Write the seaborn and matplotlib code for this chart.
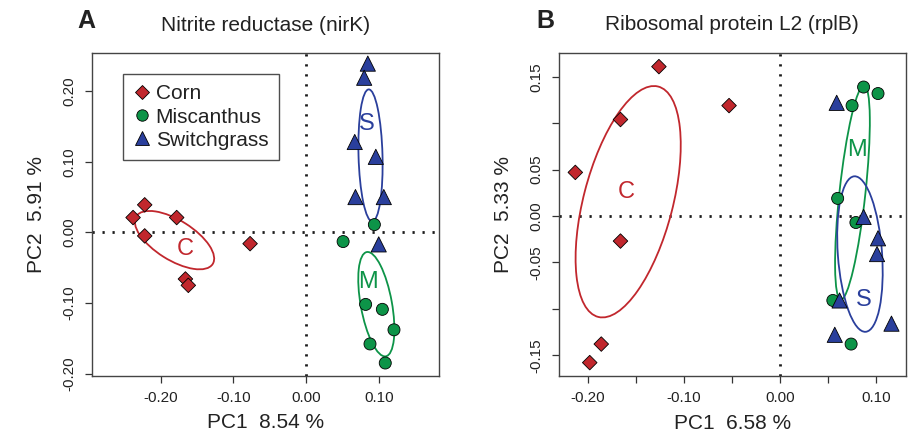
import numpy as np
import pandas as pd
import matplotlib
matplotlib.use("Agg")
import matplotlib.pyplot as plt
import seaborn as sns
from matplotlib.patches import Ellipse
from matplotlib.lines import Line2D

# ---------------------------------------
# Data
# ---------------------------------------
crops = ["Corn", "Miscanthus", "Switchgrass"]

# Panel A - nitrite reductase (nirK)
corn_a_x = [-0.222, -0.238, -0.178, -0.222, -0.077, -0.166, -0.162]
corn_a_y = [0.039, 0.021, 0.021, -0.005, -0.016, -0.066, -0.075]
misc_a_x = [0.094, 0.051, 0.082, 0.105, 0.121, 0.088, 0.109]
misc_a_y = [0.011, -0.013, -0.102, -0.109, -0.138, -0.158, -0.185]
swit_a_x = [0.085, 0.080, 0.067, 0.096, 0.068, 0.107, 0.100]
swit_a_y = [0.239, 0.219, 0.128, 0.107, 0.050, 0.050, -0.017]

# Panel B - ribosomal protein L2 (rplB)
corn_b_x = [-0.126, -0.053, -0.166, -0.213, -0.166, -0.186, -0.198]
corn_b_y = [0.161, 0.119, 0.104, 0.047, -0.027, -0.138, -0.158]
misc_b_x = [0.087, 0.102, 0.075, 0.060, 0.079, 0.055, 0.074]
misc_b_y = [0.139, 0.132, 0.119, 0.019, -0.007, -0.091, -0.138]
swit_b_x = [0.059, 0.087, 0.102, 0.101, 0.062, 0.116, 0.057]
swit_b_y = [0.122, -0.001, -0.024, -0.041, -0.091, -0.116, -0.128]

# ellipses: centre x, centre y, major, minor, angle (deg)
ell_a = {"Corn": (-0.181, -0.011, 0.125, 0.056, -33),
         "Miscanthus": (0.0967, -0.1017, 0.150, 0.043, 100),
         "Switchgrass": (0.0887, 0.109, 0.187, 0.033, 91.5)}
ell_b = {"Corn": (-0.158, 0.0154, 0.256, 0.093, 76),
         "Miscanthus": (0.0754, 0.0253, 0.232, 0.027, 84),
         "Switchgrass": (0.0832, -0.041, 0.168, 0.046, 94)}

# group letters
lab_a = {"Corn": ("C", -0.166, -0.023), "Miscanthus": ("M", 0.0857, -0.070),
         "Switchgrass": ("S", 0.0835, 0.154)}
lab_b = {"Corn": ("C", -0.1595, 0.026), "Miscanthus": ("M", 0.080, 0.071),
         "Switchgrass": ("S", 0.087, -0.0905)}

titles = ["Nitrite reductase (nirK)", "Ribosomal protein L2 (rplB)"]
xlabels = ["PC1  8.54 %", "PC1  6.58 %"]
ylabels = ["PC2  5.91 %", "PC2  5.33 %"]

xticks_a = [-0.20, -0.10, 0.00, 0.10]
yticks_a = [-0.20, -0.10, 0.00, 0.10, 0.20]
xticks_b = [-0.20, -0.15, -0.10, -0.05, 0.00, 0.05, 0.10]
xticklabels_b = ["-0.20", "", "-0.10", "", "0.00", "", "0.10"]
yticks_b = [-0.15, -0.10, -0.05, 0.00, 0.05, 0.10, 0.15]
yticklabels_b = ["-0.15", "", "-0.05", "0.00", "0.05", "", "0.15"]

# ---------------------------------------
# Styling
# ---------------------------------------
sns.set_style("ticks")
plt.rcParams["font.family"] = ["Liberation Sans", "DejaVu Sans"]

colors = {"Corn": "#c1272d", "Miscanthus": "#0d9448", "Switchgrass": "#2a3f9c"}
markers = {"Corn": "D", "Miscanthus": "o", "Switchgrass": "^"}
sizes = {"Corn": 55, "Miscanthus": 75, "Switchgrass": 120}
text_col = "#222222"


def make_df(cx, cy, mx, my, sx, sy):
    return pd.DataFrame({
        "PC1": cx + mx + sx,
        "PC2": cy + my + sy,
        "crop": ["Corn"] * len(cx) + ["Miscanthus"] * len(mx) + ["Switchgrass"] * len(sx),
    })


df_a = make_df(corn_a_x, corn_a_y, misc_a_x, misc_a_y, swit_a_x, swit_a_y)
df_b = make_df(corn_b_x, corn_b_y, misc_b_x, misc_b_y, swit_b_x, swit_b_y)

fig = plt.figure(figsize=(9.12, 4.4), dpi=100)
ax_a = fig.add_axes([0.1005, 0.1461, 0.3809, 0.7334])
ax_b = fig.add_axes([0.6126, 0.1455, 0.3808, 0.7347])


def draw_panel(ax, df, ells, labs, title, xl, yl):
    ax.axvline(0, color="#1a1a1a", lw=2.0, ls=(0, (0.8, 2.8)), zorder=1)
    ax.axhline(0, color="#1a1a1a", lw=2.0, ls=(0, (0.8, 2.8)), zorder=1)
    for crop in crops:
        x0, y0, w, h, ang = ells[crop]
        ax.add_patch(Ellipse((x0, y0), w, h, angle=ang, fill=False,
                             edgecolor=colors[crop], lw=1.3, zorder=2))
        txt, tx, ty = labs[crop]
        ax.text(tx, ty, txt, color=colors[crop], fontsize=17,
                ha="center", va="center", zorder=2)
    sns.scatterplot(data=df, x="PC1", y="PC2", hue="crop", style="crop",
                    size="crop", palette=colors, markers=markers, sizes=sizes,
                    edgecolor="black", linewidth=0.6, legend=False, ax=ax, zorder=3)
    ax.set_title(title, fontsize=15, pad=16, color=text_col)
    ax.set_xlabel(xl, fontsize=15, labelpad=6, color=text_col)
    ax.set_ylabel(yl, fontsize=15, labelpad=12, color=text_col)
    ax.tick_params(direction="out", length=5, width=0.9, labelsize=11,
                   pad=6, colors="#333333", labelcolor=text_col)
    for sp in ax.spines.values():
        sp.set_visible(True)
        sp.set_color("#444444")
        sp.set_linewidth(1.0)


draw_panel(ax_a, df_a, ell_a, lab_a, titles[0], xlabels[0], ylabels[0])
ax_a.set_xlim(-0.295, 0.183)
ax_a.set_ylim(-0.203, 0.254)
ax_a.set_xticks(xticks_a, [f"{v:.2f}" for v in xticks_a])
ax_a.set_yticks(yticks_a, [f"{v:.2f}" for v in yticks_a], rotation=90, va="center")

draw_panel(ax_b, df_b, ell_b, lab_b, titles[1], xlabels[1], ylabels[1])
ax_b.set_xlim(-0.2303, 0.1311)
ax_b.set_ylim(-0.1724, 0.176)
ax_b.set_xticks(xticks_b, xticklabels_b)
ax_b.set_yticks(yticks_b, yticklabels_b, rotation=90, va="center")

# legend on panel A
handles = [Line2D([], [], ls="none", marker=markers[c], markersize=np.sqrt(sizes[c]) * 0.95,
                  markerfacecolor=colors[c], markeredgecolor="black", markeredgewidth=0.6)
           for c in crops]
leg = ax_a.legend(handles, crops, loc="upper left", bbox_to_anchor=(0.091, 0.935),
                  fontsize=15, frameon=True, fancybox=False, handlelength=0.8,
                  handletextpad=0.25, labelspacing=0.2, borderpad=0.5,
                  borderaxespad=0)
leg.get_frame().set_edgecolor("#222222")
leg.get_frame().set_linewidth(1.0)
for t in leg.get_texts():
    t.set_color(text_col)

# panel letters
fig.text(86 / 912, 1 - 21 / 440, "A", fontsize=18, fontweight="bold",
         ha="center", va="center", color=text_col,
         family=["Liberation Sans Narrow", "Liberation Sans"])
fig.text(545 / 912, 1 - 21 / 440, "B", fontsize=18, fontweight="bold",
         ha="center", va="center", color=text_col,
         family=["Liberation Sans Narrow", "Liberation Sans"])

fig.savefig("out.png", dpi=100)
